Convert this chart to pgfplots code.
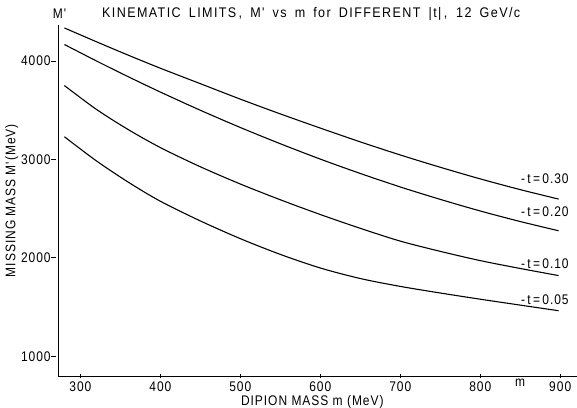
\documentclass[border=0pt]{standalone}
\usepackage{fontspec}
\setmainfont[FakeStretch=0.86]{Liberation Sans}
\newfontfamily\wide[FakeStretch=0.86,LetterSpace=7]{Liberation Sans}
\newfontfamily\tfont[FakeStretch=0.9,LetterSpace=10]{Liberation Sans}
\usepackage{pgfplots}
\pgfplotsset{compat=1.18}

% -t = 0.30
\pgfplotstableread{
m M
280 4335
320 4195
360 4058
400 3926
450 3769
500 3612
550 3462
600 3318
650 3178
700 3045
750 2920
800 2802
850 2693
898 2597
}\tthirty
% -t = 0.20
\pgfplotstableread{
m M
280 4167
320 4000
360 3839
400 3684
450 3499
500 3324
550 3159
600 3003
650 2857
700 2720
750 2594
800 2476
850 2369
898 2275
}\ttwenty
% -t = 0.10
\pgfplotstableread{
m M
280 3750
320 3508
360 3302
400 3120
450 2925
500 2750
550 2590
600 2440
650 2300
700 2170
750 2066
800 1972
850 1892
898 1820
}\tten
% -t = 0.05
\pgfplotstableread{
m M
280 3230
320 2985
360 2768
400 2575
450 2375
500 2195
550 2035
600 1897
650 1790
700 1710
750 1643
800 1580
850 1520
898 1463
}\tfive

\begin{document}
\fontsize{14}{16}\selectfont
\begin{tikzpicture}
\begin{axis}[
    name=ax,
    scale only axis,
    width=519bp, height=351bp,
    xmin=272, xmax=921,
    ymin=800, ymax=4365,
    axis lines=left,
    axis line style={-, line width=0.9pt},
    xtick={300,400,...,900},
    ytick={1000,2000,3000,4000},
    major tick length=5pt,
    tick style={black, line width=0.8pt},
    ytick style={xshift=-5pt},
    /pgf/number format/assume math mode=true,
    /pgf/number format/set thousands separator={},
    ticklabel style={font=\wide\fontsize{14}{16}\selectfont},
    xticklabel style={inner sep=1pt, yshift=-2pt},
    clip=false,
]
\addplot[black, line width=1.1pt, smooth] table[x=m, y=M] {\tthirty};
\addplot[black, line width=1.1pt, smooth] table[x=m, y=M] {\ttwenty};
\addplot[black, line width=1.1pt, smooth] table[x=m, y=M] {\tten};
\addplot[black, line width=1.1pt, smooth] table[x=m, y=M] {\tfive};

\begin{scope}[font=\wide\fontsize{14}{16}\selectfont]
\node[anchor=west] at (axis cs:845,2803) {-\,t\,=\,0.30};
\node[anchor=west] at (axis cs:845,2470) {-\,t\,=\,0.20};
\node[anchor=west] at (axis cs:845,1944) {-\,t\,=\,0.10};
\node[anchor=west] at (axis cs:845,1570) {-\,t\,=\,0.05};

\node at (axis cs:850,800) [anchor=north, inner sep=1pt, yshift=-2pt] {m};
\node at (axis cs:274,4365) [anchor=south, yshift=2pt] {M'};
\node at (axis cs:327,4365) [anchor=south west, yshift=4pt, inner sep=0pt, font=\tfont\fontsize{14}{16}\selectfont]
  {\makebox[418bp][s]{KINEMATIC LIMITS\,, M' vs m for DIFFERENT |t|\,, 12 GeV/c}};
\node at (axis cs:590,800) [anchor=north, yshift=-19pt, inner sep=0pt] {DIPION\ MASS\ m (MeV)};
\node at (axis cs:272,2580) [rotate=90, anchor=south, yshift=35pt] {MISSING\ MASS\ M'(MeV)};
\end{scope}
\end{axis}
\pgfresetboundingbox
\path ([xshift=-58bp,yshift=-32bp]ax.south west) rectangle ([yshift=25bp]ax.north east);
\end{tikzpicture}
\end{document}
